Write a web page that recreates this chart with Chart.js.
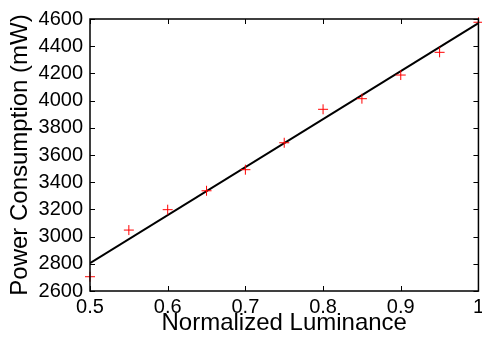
<!DOCTYPE html>
<html>
<head>
<meta charset="utf-8">
<script src="https://cdn.jsdelivr.net/npm/chart.js@4/dist/chart.umd.min.js"></script>
<style>
  html, body { margin: 0; padding: 0; background: #fff; overflow: hidden; width: 482px; height: 339px; }
  /* a bit wider than the window so the "1" tick label gets cut at the edge, like the original */
  #wrap { width: 488px; height: 339px; }
</style>
</head>
<body>
<div id="wrap"><canvas id="powerChart"></canvas></div>
<script>
// measured points (red crosses)
const luminance = [0.5, 0.55, 0.6, 0.65, 0.7, 0.75, 0.8, 0.85, 0.9, 0.95, 1.0];
const powerMw = [2705, 3048, 3198, 3337, 3492, 3690, 3936, 4014, 4188, 4355, 4576];

// linear fit (black line), endpoints
const fitX = [0.5, 1.0];
const fitY = [2805, 4570];

const FONT = "'Liberation Sans', Arial, Helvetica, sans-serif";

// matplotlib style: frame + ticks pointing inward on all four sides
const innerTicks = {
    id: 'innerTicks',
    afterDatasetsDraw(chart) {
        const ctx = chart.ctx;
        const a = chart.chartArea;
        const xs = chart.scales.x, ys = chart.scales.y;
        const len = 5;
        ctx.save();
        ctx.strokeStyle = '#000';
        ctx.lineWidth = 1;
        ctx.beginPath();
        xs.ticks.forEach(t => {
            const px = Math.round(xs.getPixelForValue(t.value)) + 0.5;
            ctx.moveTo(px, a.bottom); ctx.lineTo(px, a.bottom - len);
            ctx.moveTo(px, a.top); ctx.lineTo(px, a.top + len);
        });
        ys.ticks.forEach(t => {
            const py = Math.round(ys.getPixelForValue(t.value)) + 0.5;
            ctx.moveTo(a.left, py); ctx.lineTo(a.left + len, py);
            ctx.moveTo(a.right, py); ctx.lineTo(a.right - len, py);
        });
        ctx.stroke();
        ctx.lineWidth = 1.5;
        ctx.strokeRect(a.left, a.top, a.right - a.left, a.bottom - a.top);
        ctx.restore();
    }
};

const ctx = document.getElementById('powerChart').getContext('2d');
new Chart(ctx, {
    type: 'scatter',
    data: {
        datasets: [
            {
                label: 'Measured',
                data: luminance.map((x, i) => ({ x: x, y: powerMw[i] })),
                pointStyle: 'cross',
                pointRadius: 5,
                pointHoverRadius: 5,
                borderColor: '#ff0000',
                backgroundColor: '#ff0000',
                borderWidth: 1,
                clip: false,
                order: 0
            },
            {
                label: 'Fit',
                type: 'line',
                data: fitX.map((x, i) => ({ x: x, y: fitY[i] })),
                borderColor: '#000',
                borderWidth: 2,
                pointRadius: 0,
                fill: false,
                order: 1
            }
        ]
    },
    options: {
        responsive: true,
        maintainAspectRatio: false,
        animation: false,
        layout: { padding: { top: 19, right: 0, left: 0, bottom: 0 } },
        plugins: {
            legend: { display: false },
            tooltip: { enabled: false }
        },
        scales: {
            x: {
                type: 'linear',
                min: 0.5,
                max: 1.0,
                grid: { display: false, drawTicks: false },
                border: { display: false },
                ticks: {
                    stepSize: 0.1,
                    padding: 4,
                    color: '#000',
                    font: { family: FONT, size: 20 },
                    maxRotation: 0,
                    callback: v => String(Math.round(v * 10) / 10)
                },
                title: {
                    display: true,
                    text: 'Normalized Luminance',
                    color: '#000',
                    font: { family: FONT, size: 24 },
                    padding: { top: 0, bottom: 1 }
                },
                afterFit(scale) {
                    scale.height = 48;
                }
            },
            y: {
                min: 2600,
                max: 4600,
                grid: { display: false, drawTicks: false },
                border: { display: false },
                ticks: {
                    stepSize: 200,
                    padding: 7,
                    color: '#000',
                    font: { family: FONT, size: 20 },
                    callback: v => String(v)
                },
                title: {
                    display: true,
                    text: 'Power Consumption (mW)',
                    color: '#000',
                    font: { family: FONT, size: 24 },
                    padding: { top: 6, bottom: 0 }
                },
                afterFit(scale) {
                    scale.width = 90;
                }
            }
        }
    },
    plugins: [innerTicks]
});
</script>
</body>
</html>
